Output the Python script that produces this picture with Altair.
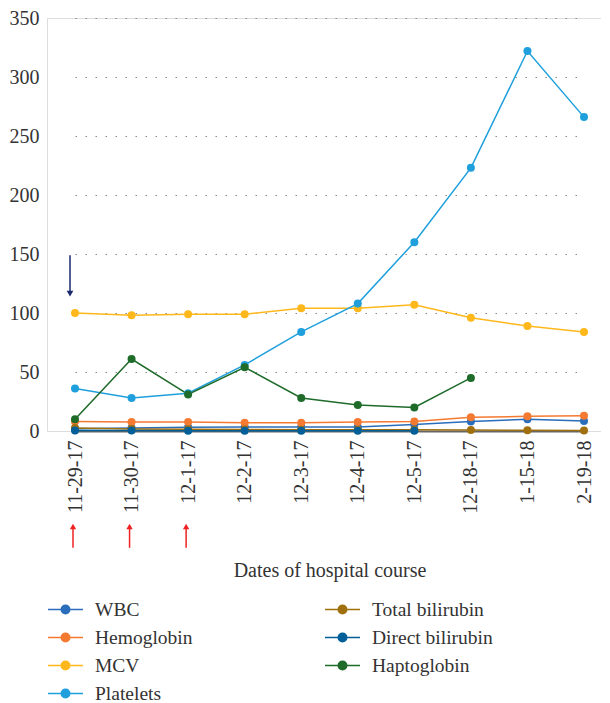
import altair as alt
import pandas as pd

dates = ["11-29-17", "11-30-17", "12-1-17", "12-2-17", "12-3-17", "12-4-17",
         "12-5-17", "12-18-17", "1-15-18", "2-19-18"]

wbc = [2, 2.5, 3.2, 3.3, 3.4, 3.4, 5.5, 8, 10, 8.5]
hemoglobin = [8, 7.7, 7.6, 7, 7, 7.6, 8, 11.6, 12.4, 13]
mcv = [100, 98, 99, 99, 104, 104, 107, 96, 89, 84]
platelets = [36, 28, 32, 56, 84, 108, 160, 223, 322, 266]
total_bilirubin = [2.5, 1.8, 1.5, 1.2, 1.1, 1, 1, 0.8, 0.6, 0.5]
direct_bilirubin = [0.5, 0.4, 0.3, 0.3, 0.3, 0.3, 0.3, None, None, None]
haptoglobin = [10, 61, 31, 54, 28, 22, 20, 45, None, None]

series_names = ["WBC", "Hemoglobin", "MCV", "Platelets",
                "Total bilirubin", "Haptoglobin", "Direct bilirubin"]
series_values = [wbc, hemoglobin, mcv, platelets,
                 total_bilirubin, haptoglobin, direct_bilirubin]
series_colors = ["#2a6ebb", "#f47a32", "#ffb81c", "#1fa0dd",
                 "#a0700f", "#1e6b2a", "#005f99"]

# legend order (filled column by column)
legend_order = ["WBC", "Hemoglobin", "MCV", "Platelets",
                "Total bilirubin", "Direct bilirubin", "Haptoglobin"]
legend_colors = [series_colors[series_names.index(n)] for n in legend_order]

rows = []
for si, (name, vals) in enumerate(zip(series_names, series_values)):
    for di, (d, v) in enumerate(zip(dates, vals)):
        if v is not None:
            rows.append({"series": name, "date": d, "value": v, "order": si})
df = pd.DataFrame(rows)

# annotation arrows
navy_arrow = pd.DataFrame({"date": ["11-29-17"], "y1": [149], "y2": [118], "tip": [116.5]})
red_arrows = pd.DataFrame({"date": ["11-29-17", "11-30-17", "12-1-17"],
                           "y1": [-99, -99, -99], "y2": [-82, -82, -82],
                           "tip": [-81, -81, -81]})

FONT = "Liberation Serif"

x_scale = alt.Scale(type="point", domain=dates, range=[28, 537], padding=0)
y_scale = alt.Scale(domain=[0, 350], nice=False)

x_enc = alt.X("date:N", scale=x_scale, sort=dates,
              axis=alt.Axis(title="Dates of hospital course", labelAngle=270,
                            labelPadding=9, ticks=False, grid=False,
                            domainColor="#666666", domainWidth=2,
                            titlePadding=47, labelFontSize=20, titleFontSize=20,
                            labelFont=FONT, titleFont=FONT, titleFontWeight="normal",
                            labelColor="#333333", titleColor="#333333"))
y_enc = alt.Y("value:Q", scale=y_scale,
              axis=alt.Axis(title=None, values=[0, 50, 100, 150, 200, 250, 300, 350],
                            domain=False, ticks=False, labelPadding=8,
                            gridDash=[1.5, 8.5], gridColor="#888888", gridWidth=1.2,
                            labelFontSize=20, labelFont=FONT, labelColor="#333333"))

color_scale = alt.Scale(domain=legend_order, range=legend_colors)

# line through unit-box plus concentric rings (a filled-looking dot)
legend_path = ("M-1,0L1,0"
               "M-0.24,0A0.24,0.24,0,1,1,0.24,0A0.24,0.24,0,1,1,-0.24,0"
               "M-0.165,0A0.165,0.165,0,1,1,0.165,0A0.165,0.165,0,1,1,-0.165,0"
               "M-0.09,0A0.09,0.09,0,1,1,0.09,0A0.09,0.09,0,1,1,-0.09,0"
               "M-0.02,0A0.02,0.02,0,1,1,0.02,0A0.02,0.02,0,1,1,-0.02,0")

lines = alt.Chart(df).mark_line(strokeWidth=1.5).encode(
    x=x_enc, y=y_enc,
    color=alt.Color("series:N", scale=color_scale,
                    legend=alt.Legend(title=None, orient="none", legendX=0, legendY=573,
                                      columns=2, columnPadding=128, rowPadding=0,
                                      symbolType=legend_path, symbolSize=1225,
                                      symbolStrokeWidth=1.6, labelFontSize=19.5,
                                      labelFont=FONT, labelColor="#333333",
                                      labelOffset=11)),
    detail="series:N",
    order="order:Q",
)

points = alt.Chart(df).mark_circle(size=64, opacity=1).encode(
    x=alt.X("date:N", scale=x_scale, sort=dates),
    y=alt.Y("value:Q", scale=y_scale),
    color=alt.Color("series:N", scale=color_scale, legend=None),
    order="order:Q",
)

navy_rule = alt.Chart(navy_arrow).mark_rule(color="#1a2a6c", strokeWidth=1.5, xOffset=-5).encode(
    x=alt.X("date:N", scale=x_scale, sort=dates),
    y=alt.Y("y1:Q", scale=y_scale), y2="y2:Q")
navy_head = alt.Chart(navy_arrow).mark_point(shape="triangle-down", filled=True, size=45,
                                             color="#1a2a6c", opacity=1, xOffset=-5).encode(
    x=alt.X("date:N", scale=x_scale, sort=dates),
    y=alt.Y("tip:Q", scale=y_scale))

red_rule = alt.Chart(red_arrows).mark_rule(color="#ee2222", strokeWidth=1.5, xOffset=-2).encode(
    x=alt.X("date:N", scale=x_scale, sort=dates),
    y=alt.Y("y1:Q", scale=y_scale), y2="y2:Q")
red_head = alt.Chart(red_arrows).mark_point(shape="triangle-up", filled=True, size=40,
                                            color="#ee2222", opacity=1, xOffset=-2).encode(
    x=alt.X("date:N", scale=x_scale, sort=dates),
    y=alt.Y("tip:Q", scale=y_scale))

chart = alt.layer(lines, points, navy_rule, navy_head, red_rule, red_head).properties(
    width=554, height=413,
    padding={"left": 1, "top": 0, "right": 0, "bottom": 0},
).configure_view(stroke=None).configure(background="white", font=FONT)

chart.save("out.html", embed_options={"renderer": "svg", "actions": False})
